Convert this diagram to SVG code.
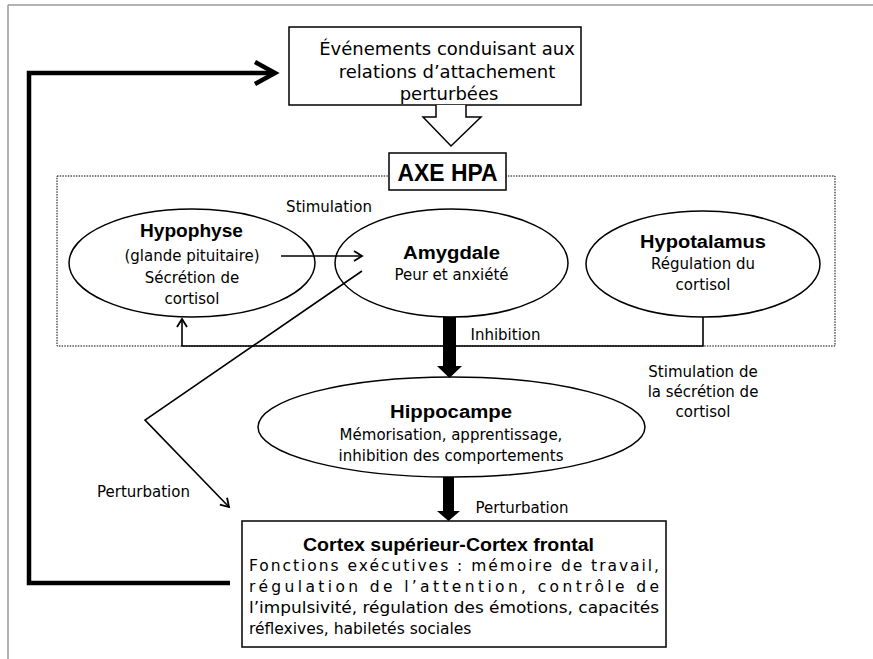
<svg xmlns="http://www.w3.org/2000/svg" width="873" height="659" viewBox="0 0 873 659">
<defs>
<style>
.t{font-family:"DejaVu Sans","Liberation Sans",sans-serif;font-size:15px;fill:#000;text-anchor:middle}
.big{font-size:18px}
.b{font-family:"Liberation Sans",Arial,sans-serif;font-weight:bold;font-size:18px;fill:#000;text-anchor:middle}
.axe{font-size:24px}
.shape{fill:#fff;stroke:#000;stroke-width:1.5}
.line{fill:none;stroke:#000;stroke-width:1.6}
.body{font-family:"DejaVu Sans","Liberation Sans",sans-serif;font-size:15.5px;fill:#000}
</style>
<marker id="open" markerUnits="userSpaceOnUse" markerWidth="14" markerHeight="14" refX="9" refY="5" orient="auto" overflow="visible">
<path d="M1,0 L9,5 L1,10" fill="none" stroke="#000" stroke-width="1.8"/>
</marker>
</defs>
<rect width="873" height="659" fill="#fff"/>
<g id="frame">
<path d="M8,5 H873 M8,5 V659" fill="none" stroke="#9a9a9a" stroke-width="1.5"/>
</g>
<g id="hpa-axis">
<rect x="57" y="176" width="778" height="170" fill="none" stroke="#000" stroke-width="1" stroke-dasharray="1.5,1.2"/>
<rect x="389" y="153" width="117" height="37" class="shape"/>
<text x="447.5" y="181" class="b axe" textLength="100" lengthAdjust="spacingAndGlyphs">AXE HPA</text>
</g>
<g id="evenements">
<rect x="289" y="27" width="292" height="78" class="shape"/>
<text x="447" y="55" class="t big">Événements conduisant aux</text>
<text x="447" y="78" class="t big">relations d’attachement</text>
<text x="449" y="100" class="t big">perturbées</text>
</g>
<g id="hypophyse">
<ellipse cx="192" cy="263" rx="123" ry="54" class="shape"/>
<text x="191.5" y="237" class="b" textLength="103" lengthAdjust="spacingAndGlyphs">Hypophyse</text>
<text x="192" y="261" class="t">(glande pituitaire)</text>
<text x="192" y="283" class="t">Sécrétion de</text>
<text x="192" y="304" class="t">cortisol</text>
</g>
<g id="amygdale">
<ellipse cx="451.5" cy="263" rx="116.5" ry="54" class="shape"/>
<text x="451.5" y="259" class="b" textLength="97" lengthAdjust="spacingAndGlyphs">Amygdale</text>
<text x="451.5" y="280" class="t">Peur et anxiété</text>
</g>
<g id="hypotalamus">
<ellipse cx="703" cy="264" rx="117" ry="53" class="shape"/>
<text x="703" y="248" class="b" textLength="126" lengthAdjust="spacingAndGlyphs">Hypotalamus</text>
<text x="703" y="269" class="t">Régulation du</text>
<text x="703" y="290" class="t">cortisol</text>
</g>
<g id="hippocampe">
<ellipse cx="451.5" cy="427" rx="193.5" ry="50" class="shape"/>
<text x="451" y="418" class="b" textLength="122" lengthAdjust="spacingAndGlyphs">Hippocampe</text>
<text x="451" y="440" class="t">Mémorisation, apprentissage,</text>
<text x="451" y="461" class="t">inhibition des comportements</text>
</g>
<g id="cortex">
<rect x="242" y="521" width="424" height="126" class="shape"/>
<text x="448.5" y="551" class="b" textLength="291" lengthAdjust="spacingAndGlyphs">Cortex supérieur-Cortex frontal</text>
<text x="249" y="571" class="body" textLength="410" lengthAdjust="spacing">Fonctions exécutives : mémoire de travail,</text>
<text x="249" y="592" class="body" textLength="410" lengthAdjust="spacing">régulation de l’attention, contrôle de</text>
<text x="249" y="613" class="body" textLength="410" lengthAdjust="spacingAndGlyphs">l’impulsivité, régulation des émotions, capacités</text>
<text x="249" y="634" class="body">réflexives, habiletés sociales</text>
</g>
<g id="connectors">
<path d="M230,583 H29 V73 H273" fill="none" stroke="#000" stroke-width="4.5"/>
<path d="M255,62 L275,73 L255,84" fill="none" stroke="#000" stroke-width="4.5"/>
<path d="M436,105 V117 H423 L451,146 L481,117 H466 V105" class="shape"/>
<line x1="281" y1="256" x2="362" y2="256" class="line" marker-end="url(#open)"/>
<path d="M703,317 V346 H182 V319" class="line" marker-end="url(#open)"/>
<path d="M362,271 L145,420 L229,507" class="line" marker-end="url(#open)"/>
<path d="M443,317 H456 V366 H462 L449.5,378 L437,366 H443 Z" fill="#000"/>
<path d="M443,477 H454 V511 H460 L448.5,521 L437,511 H443 Z" fill="#000"/>
<text x="329" y="212" class="t">Stimulation</text>
<text x="505.5" y="340" class="t">Inhibition</text>
<text x="703" y="377" class="t">Stimulation de</text>
<text x="703" y="397" class="t">la sécrétion de</text>
<text x="703" y="417" class="t">cortisol</text>
<text x="143.5" y="497" class="t">Perturbation</text>
<text x="522" y="513" class="t">Perturbation</text>
</g>
</svg>
